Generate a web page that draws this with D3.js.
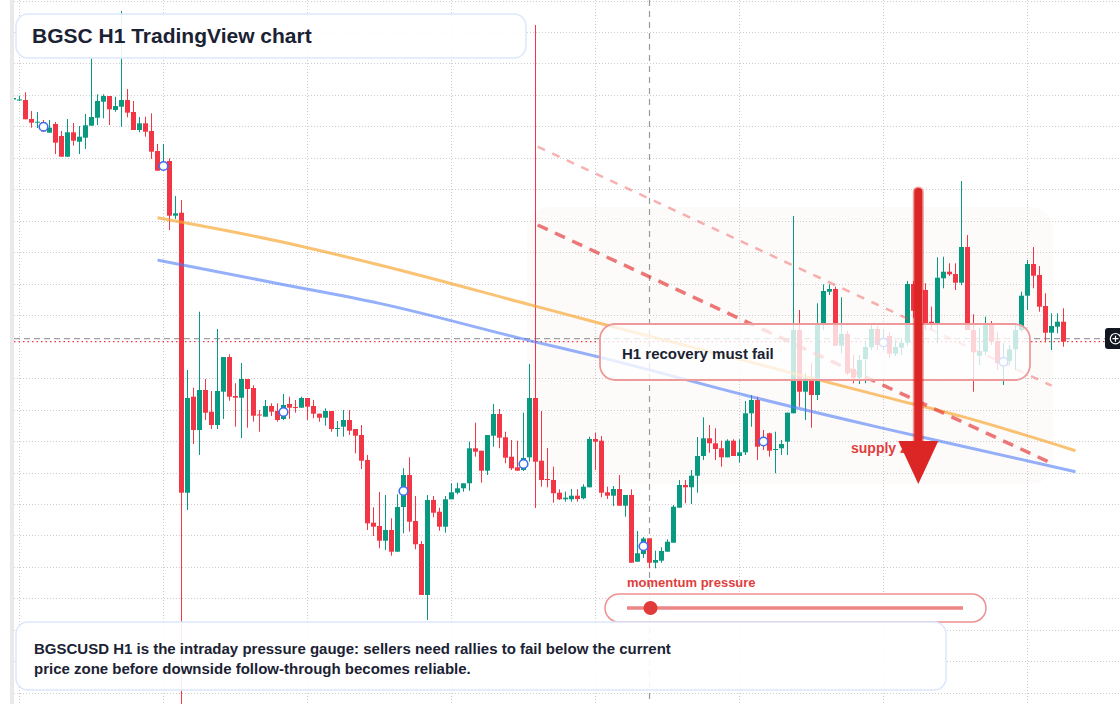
<!DOCTYPE html>
<html>
<head>
<meta charset="utf-8">
<script src="https://cdn.jsdelivr.net/npm/d3@7"></script>
<style>
  html, body { margin: 0; padding: 0; background: #fff; }
  svg { display: block; font-family: 'Liberation Sans', Arial, Helvetica, sans-serif; }
</style>
</head>
<body>
<div id="chart"><svg width="1120" height="704"></svg></div>
<script>
// BGSCUSD H1 candles, price in 1e-5 USD
const open = [604.5, 603.5, 604, 585, 581.7, 582, 571.3, 580, 568, 547.3,
  571.7, 562.3, 566.3, 578.3, 586.3, 602.3, 608, 594, 597.3, 604,
  592, 574, 580.7, 573, 553, 535, 543, 488.3, 491.3, 211.3,
  307.3, 274, 314, 292.3, 279, 312.3, 347, 308, 306.3, 325,
  316, 289.5, 287.3, 298, 293, 285, 300, 297, 296.3, 306,
  298, 290.3, 286.3, 293, 275.3, 277.3, 284, 275, 269, 244,
  181.3, 178, 163.3, 174, 152.3, 197, 229, 183, 160, 109,
  204, 192.3, 177.3, 204.7, 211.3, 215.7, 220.7, 255.7, 253.3, 233.3,
  268.3, 290, 266.7, 247.3, 236.7, 234, 246.7, 306, 243.3, 225,
  224, 211.3, 204.7, 204.7, 208.3, 205.7, 216.7, 265, 263.3, 211.7,
  208.3, 215, 198.3, 209, 142.3, 150, 165.7, 141.3, 143.3, 152.3,
  161.3, 196.3, 219, 216.7, 228.3, 248, 265.7, 260.7, 255.7, 246.7,
  263.3, 248, 251.7, 290.7, 304, 266, 270.7, 254, 255.7, 262.3,
  290.7, 374, 312.3, 325.7, 309, 379.7, 412.3, 415, 358.3, 370,
  335, 326.3, 345, 356.7, 375, 360, 368, 350.3, 356.3, 361.3,
  420, 393.3, 414, 382.3, 379, 425.7, 432.3, 430, 421.3, 457,
  374, 348.3, 352.3, 379, 363, 341, 343, 354.7, 374, 408.3,
  440, 429, 398, 371.3, 377.3, 382.3]

const high = [606, 608.3, 611.7, 593, 592, 584, 584, 582, 573, 585,
  581, 578, 590, 646, 609.7, 609.7, 608, 607.3, 693, 615,
  603, 587, 587.3, 590.7, 560, 560, 545.7, 508, 504, 334,
  316.3, 392.3, 325, 313, 375, 347, 349.7, 320.7, 341, 325,
  318.7, 294, 304, 300.7, 300.7, 310, 307.3, 304, 307.3, 306,
  304, 290.3, 295.7, 293, 283, 294, 294, 275, 279, 249,
  196.7, 212, 209, 185.7, 209.7, 235.7, 246.7, 208, 163, 209,
  208, 196.3, 208, 220.7, 221.3, 220.7, 262.3, 281.3, 253.3, 269,
  300, 295, 272.3, 264, 263.3, 291.3, 340, 679, 293, 256,
  237.3, 214.7, 212.3, 215, 214.7, 219.7, 267.3, 271.3, 268, 217.3,
  218, 229, 209, 214.7, 173, 167, 165.7, 153.3, 156.7, 164.7,
  199, 224, 224, 234, 267, 286.7, 279, 275.7, 263.3, 264.7,
  264.7, 264.7, 303, 309, 307.3, 274, 271.3, 272.3, 264, 291.3,
  488, 394, 330.7, 340.7, 400.7, 419.7, 419.7, 417.3, 406.7, 373,
  349, 349, 362.3, 379.7, 378, 375, 372.3, 364, 366, 423,
  423, 419, 420.7, 397.3, 446.7, 447.3, 440.7, 440.7, 523, 469,
  389.7, 376, 387.3, 383, 372.3, 361, 359, 381, 412.3, 444,
  457, 438, 410.7, 390.7, 390.7, 395.7]

const low = [604.5, 603, 584.7, 576.3, 576, 572, 571.3, 550, 547, 547,
  558.3, 550, 555, 578.3, 579, 585.7, 579, 592.3, 577.3, 586.7,
  574, 571.7, 567.3, 545, 533.3, 535, 474, 485, -6, 194,
  260, 249, 284, 275, 275, 285, 303.3, 277.3, 266, 276.3,
  282.3, 272.3, 287.3, 288, 282.3, 284, 285, 291.3, 296.3, 284,
  285.7, 282.3, 278.3, 272.3, 267.3, 267.3, 269, 250.7, 235, 174,
  168, 155.7, 154, 148.3, 152.3, 170.7, 172.3, 154.7, 109, 84,
  186.7, 173.3, 171.3, 204.7, 209.7, 212.3, 213.3, 247.3, 221.3, 229,
  257.3, 255.7, 240.7, 234, 233.3, 233, 242.3, 196, 217.3, 216.7,
  201.3, 204, 202.3, 202.3, 202.3, 204.7, 216.7, 234, 206.7, 205,
  198, 198.3, 187.3, 141.3, 142.3, 146, 135.7, 135.7, 141.3, 152.3,
  161.3, 196.3, 200.7, 200, 211.3, 244, 251.3, 244, 237.3, 246.7,
  248, 241.3, 249, 277.3, 244, 254, 247.3, 230.7, 249, 249,
  290.7, 297.3, 284, 276.3, 304, 374, 409, 358, 350.7, 329,
  320.7, 320, 320.7, 354, 354, 354, 346, 348, 349, 358,
  386, 386, 374, 374, 360.7, 415.7, 428, 414, 419, 374,
  312.3, 339, 349, 359, 334, 319, 339, 334, 372, 394,
  415.7, 392.3, 361.7, 354, 370.7, 357.3]

const close = [606, 604.5, 584.7, 581.3, 582.3, 572.5, 576.3, 561.3, 547.3, 571.7,
  563.3, 567.3, 578.7, 587, 603, 608, 594.7, 598, 604, 591.3,
  574, 580.7, 572.3, 552.3, 533.3, 541, 488.3, 490.7, 211.3, 306,
  274, 314, 291.3, 279, 313, 347, 307.3, 306.3, 325, 315,
  288.3, 288.5, 298, 292.3, 284, 299, 296.3, 296.3, 306, 297.3,
  290.3, 286.3, 293, 275, 276, 284, 273.3, 268.3, 243.3, 180.7,
  177.3, 163.3, 174, 152.3, 197, 229, 182.3, 159.7, 109, 204,
  191.3, 177.3, 204.7, 211.7, 215.7, 220.7, 255.7, 252.3, 233.3, 269,
  290, 266.3, 246.3, 235.7, 233.3, 246, 306, 242.3, 224, 224,
  210.7, 204.7, 206.3, 208.3, 205, 217.3, 265, 262.3, 211.3, 208.3,
  215, 198.3, 209, 141.3, 150.7, 165.5, 141.3, 144, 153, 162.3,
  197.3, 219, 216.7, 228.3, 248, 265.7, 260.7, 255, 246.7, 263.3,
  248, 251.7, 290.7, 304, 257.3, 259, 253.3, 255, 260, 291.3,
  374, 312.3, 325.7, 309, 379.7, 413, 415, 358.3, 370, 330.7,
  326.3, 344, 357, 375, 359, 363, 350.3, 357, 361.3, 420,
  393.3, 414, 379.7, 379, 426.3, 432.3, 429.7, 421.3, 457, 374,
  351.7, 353, 379, 362.3, 340.7, 343.5, 354.7, 374, 408.3, 440,
  428.3, 397.3, 371.3, 378, 382.3, 362.3]

// moving averages (sampled at bar index)
const maIndex = [24, 44, 61, 86, 98, 123, 145, 158, 177]
const maSlow = [486.2, 463, 439, 399.4, 380.3, 341.6, 307.4, 287.6, 253.3]
const maFast = [444, 420.5, 400.6, 363.4, 346.4, 307.2, 275.6, 258, 232.3]

// falling channel drawn from the spike high
const channelIndex = [87.37, 173.03]
const channelUpper = [557.3, 318.3]
const channelLower = [479, 240.7]

// supply zone, arrow, crosshair
const zoneIndex = [85.6, 173.25]
const zonePrice = [497, 220]
const arrowIndex = 150.8
const arrowPrice = [512, 263, 220]
const crossIndex = 106
const crossPrice = 365.3
const momentum = 0.07

const gridStep = 31.47
const svgW = 1120
const svgH = 704
const svg = d3.select('#chart svg')

const xScale = d3.scaleLinear().domain([0, 175]).range([13.5, 1063.5])
const yScale = d3.scaleLinear().domain([0, 704]).range([704, 0])

const candles = open.map((o, i) => ({ i, o, h: high[i], l: low[i], c: close[i] }))
const upColor = '#089981'
const downColor = '#f23645'
const colorOf = d => d.c >= d.o ? upColor : downColor
const lastClose = close[close.length - 1]

svg.append('rect').attr('width', svgW).attr('height', svgH).attr('fill', '#fff')

svg.append('defs').append('clipPath').attr('id', 'plot')
    .append('rect').attr('x', 14).attr('y', 0).attr('width', svgW - 14).attr('height', svgH)

// supply zone
svg.append('rect')
    .attr('x', xScale(zoneIndex[0]))
    .attr('y', yScale(zonePrice[0]))
    .attr('width', xScale(zoneIndex[1]) - xScale(zoneIndex[0]))
    .attr('height', yScale(zonePrice[1]) - yScale(zonePrice[0]))
    .attr('rx', 22)
    .attr('fill', '#f8efe6')
    .attr('opacity', 0.22)

// grid
const gridPrices = d3.range(703.5, 0, -gridStep).filter(p => Math.abs(p - crossPrice) > 12)
svg.append('g')
    .selectAll('line')
    .data(gridPrices)
    .join('line')
    .attr('x1', 14).attr('x2', svgW)
    .attr('y1', d => Math.round(yScale(d)) + 0.5)
    .attr('y2', d => Math.round(yScale(d)) + 0.5)
    .attr('stroke', '#cdcdcd')
    .attr('stroke-dasharray', '1,2')

svg.append('g')
    .selectAll('line')
    .data(d3.range(1, 176, 24))
    .join('line')
    .attr('x1', d => xScale(d)).attr('x2', d => xScale(d))
    .attr('y1', 0).attr('y2', svgH)
    .attr('stroke', '#cdcdcd')
    .attr('stroke-dasharray', '1,2')

svg.append('rect').attr('x', 10).attr('y', 0).attr('width', 4).attr('height', svgH).attr('fill', '#e9e9e9')

// crosshair and last price
svg.append('line')
    .attr('x1', xScale(crossIndex)).attr('x2', xScale(crossIndex))
    .attr('y1', 0).attr('y2', svgH)
    .attr('stroke', '#9a9a9a').attr('stroke-width', 1.2)
    .attr('stroke-dasharray', '6,5')

svg.append('line')
    .attr('x1', 14).attr('x2', 1105)
    .attr('y1', yScale(crossPrice)).attr('y2', yScale(crossPrice))
    .attr('stroke', '#a0a0a0').attr('stroke-width', 1.2)
    .attr('stroke-dasharray', '6,4')

svg.append('line')
    .attr('x1', 14).attr('x2', 1105)
    .attr('y1', yScale(lastClose)).attr('y2', yScale(lastClose))
    .attr('stroke', downColor).attr('stroke-width', 1.2)
    .attr('stroke-dasharray', '1.5,3')

// candles
const plot = svg.append('g').attr('clip-path', 'url(#plot)')

plot.append('g')
    .selectAll('line')
    .data(candles)
    .join('line')
    .attr('x1', d => xScale(d.i)).attr('x2', d => xScale(d.i))
    .attr('y1', d => yScale(d.h)).attr('y2', d => yScale(d.l))
    .attr('stroke', colorOf)
    .attr('stroke-width', 1)

plot.append('g')
    .selectAll('rect')
    .data(candles)
    .join('rect')
    .attr('x', d => xScale(d.i) - 2.5)
    .attr('width', 5)
    .attr('y', d => yScale(Math.max(d.o, d.c)))
    .attr('height', d => Math.max(1, Math.abs(yScale(d.o) - yScale(d.c))))
    .attr('fill', colorOf)

// moving averages
const maLine = vals => d3.line()
    .x((d, k) => xScale(maIndex[k]))
    .y(d => yScale(d))
    .curve(d3.curveMonotoneX)(vals)

svg.append('path').attr('d', maLine(maSlow))
    .attr('fill', 'none').attr('stroke', '#f7a531').attr('stroke-opacity', 0.68).attr('stroke-width', 3)

svg.append('path').attr('d', maLine(maFast))
    .attr('fill', 'none').attr('stroke', '#4f7cf7').attr('stroke-opacity', 0.6).attr('stroke-width', 3)

// channel
const chLine = vals => d3.line()
    .x((d, k) => xScale(channelIndex[k]))
    .y(d => yScale(d))(vals)

svg.append('path').attr('d', chLine(channelUpper))
    .attr('fill', 'none').attr('stroke', '#ef4444').attr('stroke-opacity', 0.42)
    .attr('stroke-width', 2.5).attr('stroke-dasharray', '8,8')

svg.append('path').attr('d', chLine(channelLower))
    .attr('fill', 'none').attr('stroke', '#e53e3e').attr('stroke-opacity', 0.7)
    .attr('stroke-width', 3.5).attr('stroke-dasharray', '11,8')

// session markers
svg.append('g')
    .selectAll('circle')
    .data(d3.range(5, 176, 20).map(i => candles[i]))
    .join('circle')
    .attr('cx', d => xScale(d.i))
    .attr('cy', d => yScale((d.o + d.c) / 2))
    .attr('r', 4.3)
    .attr('fill', '#fff')
    .attr('stroke', '#3b6ef5')
    .attr('stroke-width', 1.6)

// recovery box
svg.append('rect')
    .attr('x', 600).attr('y', 324).attr('width', 430).attr('height', 56).attr('rx', 15)
    .attr('fill', '#fff').attr('fill-opacity', 0.78)
    .attr('stroke', '#ee9a9a').attr('stroke-width', 1.8)

svg.append('text')
    .text('H1 recovery must fail')
    .attr('x', 622).attr('y', 359)
    .style('font-size', '15px').style('font-weight', 700)
    .attr('fill', '#1a2233')

// supply label under the arrow
svg.append('text')
    .text('supply zone')
    .attr('x', 851).attr('y', 453)
    .style('font-size', '14px').style('font-weight', 700)
    .attr('fill', '#e03e3e')

// arrow
const ax = xScale(arrowIndex)
svg.append('line')
    .attr('x1', ax).attr('x2', ax)
    .attr('y1', yScale(arrowPrice[0])).attr('y2', yScale(arrowPrice[1]))
    .attr('stroke', '#dc2626').attr('stroke-opacity', 0.45)
    .attr('stroke-width', 11).attr('stroke-linecap', 'round')

svg.append('line')
    .attr('x1', ax).attr('x2', ax)
    .attr('y1', yScale(arrowPrice[0])).attr('y2', yScale(arrowPrice[1]))
    .attr('stroke', '#dc2626')
    .attr('stroke-width', 8).attr('stroke-linecap', 'round')

svg.append('path')
    .attr('d', `M${ax - 20},${yScale(arrowPrice[1])}L${ax + 20},${yScale(arrowPrice[1])}L${ax},${yScale(arrowPrice[2])}Z`)
    .attr('fill', '#dc2626')

// title
svg.append('rect')
    .attr('x', 16).attr('y', 14).attr('width', 510).attr('height', 44).attr('rx', 12)
    .attr('fill', '#fff').attr('fill-opacity', 0.9)
    .attr('stroke', '#dbe7fb').attr('stroke-width', 1.5)

svg.append('text')
    .text('BGSC H1 TradingView chart')
    .attr('x', 32).attr('y', 43)
    .style('font-size', '21px').style('font-weight', 700)
    .attr('fill', '#1a2233')

// momentum gauge
const mScale = d3.scaleLinear().domain([0, 1]).range([627, 963])

svg.append('text')
    .text('momentum pressure')
    .attr('x', 627).attr('y', 587)
    .style('font-size', '13px').style('font-weight', 700)
    .attr('fill', '#e03e3e')

svg.append('rect')
    .attr('x', 605).attr('y', 594).attr('width', 381).attr('height', 28).attr('rx', 14)
    .attr('fill', '#fff').attr('fill-opacity', 0.9)
    .attr('stroke', '#ee9090').attr('stroke-width', 1.5)

svg.append('line')
    .attr('x1', mScale(0)).attr('x2', mScale(1))
    .attr('y1', 608).attr('y2', 608)
    .attr('stroke', '#ec8585').attr('stroke-width', 3.5)

svg.append('circle')
    .attr('cx', mScale(momentum)).attr('cy', 608).attr('r', 7)
    .attr('fill', '#e03a3a')

// note
svg.append('rect')
    .attr('x', 16).attr('y', 622).attr('width', 930).attr('height', 68).attr('rx', 12)
    .attr('fill', '#fff').attr('fill-opacity', 0.9)
    .attr('stroke', '#dbe7fb').attr('stroke-width', 1.5)

svg.append('text')
    .attr('fill', '#1a2233')
    .style('font-size', '15px').style('font-weight', 700)
    .selectAll('tspan')
    .data(['BGSCUSD H1 is the intraday pressure gauge: sellers need rallies to fail below the current',
        'price zone before downside follow-through becomes reliable.'])
    .join('tspan')
    .attr('x', 34)
    .attr('y', (d, i) => 654 + i * 20)
    .text(d => d)

// crosshair button
svg.append('rect')
    .attr('x', 1105).attr('y', 328).attr('width', 18).attr('height', 21).attr('rx', 3)
    .attr('fill', '#131722')
svg.append('circle')
    .attr('cx', 1115.5).attr('cy', yScale(crossPrice)).attr('r', 5.2)
    .attr('fill', 'none').attr('stroke', '#fff').attr('stroke-width', 1.2)
svg.append('path')
    .attr('d', `M1112.5,${yScale(crossPrice)}h6M1115.5,${yScale(crossPrice) - 3}v6`)
    .attr('stroke', '#fff').attr('stroke-width', 1.2)
</script>
</body>
</html>
